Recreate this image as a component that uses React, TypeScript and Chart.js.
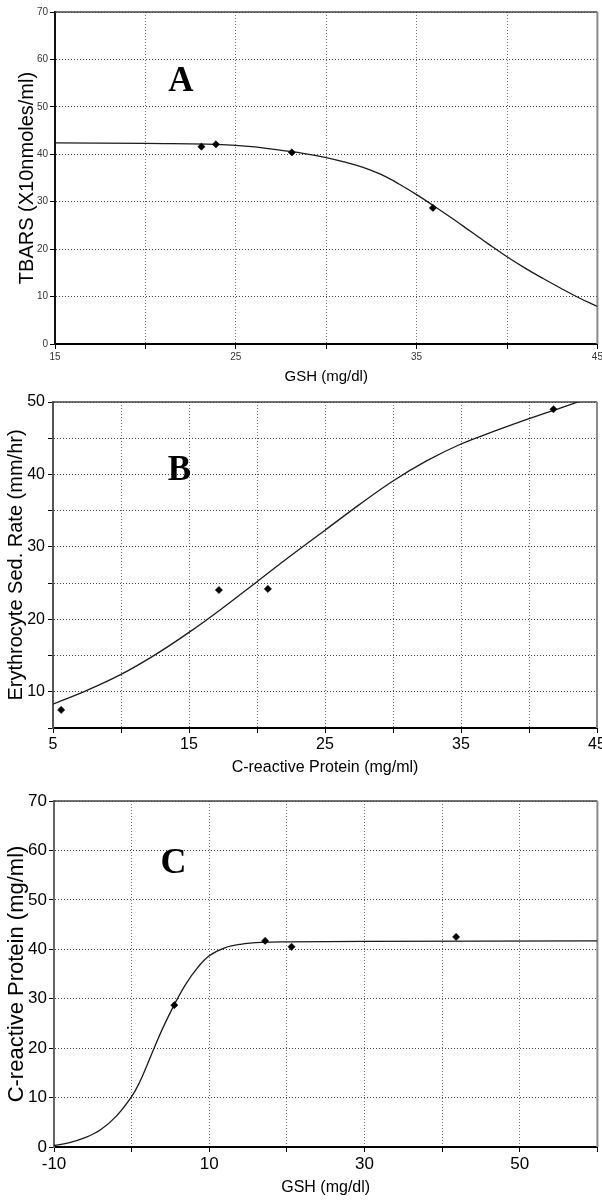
import React, { useEffect, useRef } from "react";
import { Chart, registerables } from "chart.js";
Chart.register(...registerables);

const FONT = "'Liberation Sans', Arial, sans-serif";

// ---------- Panel A ----------
const aPointX = [23.1, 23.9, 28.1, 35.9];
const aPointY = [41.6, 42.1, 40.4, 28.7];
const aCurveX = [15, 20, 25, 28, 30, 31, 32, 33, 34, 35, 36, 37, 38, 39, 40, 41, 42, 43, 44, 45];
const aCurveY = [42.4, 42.3, 41.9, 40.6, 39.3, 38.4, 37.3, 35.8, 33.8, 31.5, 29.0, 26.4, 23.7, 21.0, 18.4, 16.0, 13.8, 11.7, 9.7, 7.9];
const aXLabels = [15, 25, 35, 45];
const aYLabels = [0, 10, 20, 30, 40, 50, 60, 70];

// ---------- Panel B ----------
const bPointX = [5.6, 17.2, 20.8, 41.8];
const bPointY = [7.5, 24.05, 24.2, 49.0];
const bCurveX = [5, 7.5, 10, 12.5, 15, 17.5, 20, 22.5, 25, 27.5, 30, 32.5, 35, 37.5, 40, 42.5, 45];
const bCurveY = [8.3, 10.2, 12.4, 15.1, 18.2, 21.6, 25.2, 28.8, 32.3, 35.8, 39.1, 41.9, 44.2, 46.0, 47.7, 49.3, 50.9];
const bXLabels = [5, 15, 25, 35, 45];
const bYLabels = [10, 20, 30, 40, 50];

// ---------- Panel C ----------
const cPointX = [5.5, 17.2, 20.6, 41.8];
const cPointY = [28.7, 41.7, 40.5, 42.5];
const cCurveX = [-10, -8, -6, -4, -2, 0, 1, 2, 3, 4, 5.5, 7, 8.5, 10, 12, 14, 17, 20, 30, 60];
const cCurveY = [0.3, 0.9, 1.9, 3.5, 6.2, 10.2, 13, 16.6, 20.4, 24.0, 28.8, 33, 36.3, 38.7, 40.3, 41.0, 41.4, 41.5, 41.6, 41.7];
const cXLabels = [-10, 10, 30, 50];
const cYLabels = [0, 10, 20, 30, 40, 50, 60, 70];

type Spec = {
  top: number; height: number;
  padTop: number; padRight: number; yWidth: number; xHeight: number;
  xMin: number; xMax: number; xStep: number; xLabels: number[];
  yMin: number; yMax: number; yStep: number; yLabels: number[];
  tickFont: number; tickColor: string; xTickPad: number; yTickPad: number;
  xTitle: string; xTitleFont: number; xTitlePadBottom: number;
  yTitle: string; yTitleFont: number; yTitlePadTop: number;
  letter: string; letterX: number; letterY: number; letterFont: number;
  px: number[]; py: number[]; cx: number[]; cy: number[];
  leftColor: string;
};

const framePlugin = {
  id: "frame",
  beforeDatasetsDraw(chart: any) {
    const { ctx, chartArea } = chart;
    ctx.save();
    ctx.strokeStyle = "#444";
    ctx.lineWidth = 1.5;
    ctx.beginPath();
    ctx.moveTo(chartArea.left, chartArea.top);
    ctx.lineTo(chartArea.right, chartArea.top);
    ctx.stroke();
    ctx.strokeStyle = "#8a8a8a";
    ctx.lineWidth = 2;
    ctx.beginPath();
    ctx.moveTo(chartArea.right, chartArea.top);
    ctx.lineTo(chartArea.right, chartArea.bottom);
    ctx.stroke();
    ctx.restore();
  },
};

const letterPlugin = {
  id: "letter",
  afterDatasetsDraw(chart: any, _args: any, opts: any) {
    const { ctx } = chart;
    const x = chart.scales.x.getPixelForValue(opts.x);
    const y = chart.scales.y.getPixelForValue(opts.y);
    ctx.save();
    ctx.fillStyle = "#000";
    ctx.font = `bold ${opts.size}px 'Liberation Serif', 'Times New Roman', serif`;
    ctx.textAlign = "center";
    ctx.textBaseline = "alphabetic";
    ctx.fillText(opts.text, x, y);
    ctx.restore();
  },
};

function Panel({ s }: { s: Spec }) {
  const ref = useRef<HTMLCanvasElement>(null);
  useEffect(() => {
    const canvas = ref.current!;
    const points = s.px.map((x, i) => ({ x, y: s.py[i] }));
    const curve = s.cx.map((x, i) => ({ x, y: s.cy[i] }));
    const chart = new Chart(canvas, {
      type: "scatter",
      data: {
        datasets: [
          {
            type: "scatter",
            data: points,
            pointStyle: "rectRot",
            pointRadius: 3.6,
            pointBackgroundColor: "#000",
            pointBorderColor: "#000",
            pointBorderWidth: 0.6,
          } as any,
          {
            type: "line",
            data: curve,
            borderColor: "#1a1a1a",
            borderWidth: 1.3,
            pointRadius: 0,
            tension: 0.4,
            fill: false,
          } as any,
        ],
      },
      options: {
        responsive: false,
        animation: false,
        devicePixelRatio: 1,
        layout: { padding: { top: s.padTop, right: s.padRight, bottom: 0, left: 0 } },
        plugins: {
          legend: { display: false },
          tooltip: { enabled: false },
          letter: { text: s.letter, x: s.letterX, y: s.letterY, size: s.letterFont },
        } as any,
        scales: {
          x: {
            type: "linear",
            min: s.xMin,
            max: s.xMax,
            afterFit: (sc: any) => {
              sc.height = s.xHeight;
              sc.paddingLeft = 0;
              sc.paddingRight = 0;
            },
            ticks: {
              stepSize: s.xStep,
              autoSkip: false,
              maxRotation: 0,
              padding: s.xTickPad,
              color: s.tickColor,
              font: { family: FONT, size: s.tickFont },
              callback: (v: any) => (s.xLabels.includes(Number(v)) ? String(v) : ""),
            },
            grid: {
              color: "rgba(0,0,0,0.55)",
              tickColor: "#000",
              tickLength: 5,
              tickBorderDash: [],
            } as any,
            border: { color: "#000", width: 2, dash: [1, 2] } as any,
            title: {
              display: true,
              text: s.xTitle,
              color: "#000",
              font: { family: FONT, size: s.xTitleFont },
              padding: { top: 0, bottom: s.xTitlePadBottom },
            },
          },
          y: {
            type: "linear",
            min: s.yMin,
            max: s.yMax,
            afterFit: (sc: any) => {
              sc.width = s.yWidth;
              sc.paddingTop = 0;
              sc.paddingBottom = 0;
            },
            ticks: {
              stepSize: s.yStep,
              autoSkip: false,
              padding: s.yTickPad,
              color: s.tickColor,
              font: { family: FONT, size: s.tickFont },
              callback: (v: any) => (s.yLabels.includes(Number(v)) ? String(v) : ""),
            },
            grid: {
              color: "rgba(0,0,0,0.75)",
              tickColor: "#000",
              tickLength: 5,
              tickBorderDash: [],
            } as any,
            border: { color: s.leftColor, width: 2, dash: [1, 2] } as any,
            title: {
              display: true,
              text: s.yTitle,
              color: "#000",
              font: { family: FONT, size: s.yTitleFont },
              padding: { top: s.yTitlePadTop, bottom: 0 },
            },
          },
        },
      },
      plugins: [framePlugin, letterPlugin],
    });
    return () => chart.destroy();
  }, [s]);
  return (
    <canvas
      ref={ref}
      width={602}
      height={s.height}
      style={{ position: "absolute", left: 0, top: s.top, width: 602, height: s.height }}
    />
  );
}

const specA: Spec = {
  top: 0, height: 390, padTop: 12, padRight: 4, yWidth: 55, xHeight: 46,
  xMin: 15, xMax: 45, xStep: 5, xLabels: aXLabels,
  yMin: 0, yMax: 70, yStep: 10, yLabels: aYLabels,
  tickFont: 10, tickColor: "#333", xTickPad: 2, yTickPad: 2,
  xTitle: "GSH (mg/dl)", xTitleFont: 15, xTitlePadBottom: 4,
  yTitle: "TBARS (X10nmoles/ml)", yTitleFont: 20, yTitlePadTop: 15,
  letter: "A", letterX: 21.96, letterY: 53.4, letterFont: 35,
  px: aPointX, py: aPointY, cx: aCurveX, cy: aCurveY,
  leftColor: "#111",
};

const specB: Spec = {
  top: 390, height: 390, padTop: 12, padRight: 5, yWidth: 53, xHeight: 52,
  xMin: 5, xMax: 45, xStep: 5, xLabels: bXLabels,
  yMin: 5, yMax: 50, yStep: 5, yLabels: bYLabels,
  tickFont: 16, tickColor: "#000", xTickPad: 2, yTickPad: 3,
  xTitle: "C-reactive Protein (mg/ml)", xTitleFont: 16, xTitlePadBottom: 3,
  yTitle: "Erythrocyte Sed. Rate (mm/hr)", yTitleFont: 20, yTitlePadTop: 4,
  letter: "B", letterX: 14.3, letterY: 39.2, letterFont: 35,
  px: bPointX, py: bPointY, cx: bCurveX, cy: bCurveY,
  leftColor: "#555",
};

const specC: Spec = {
  top: 780, height: 420, padTop: 21, padRight: 2, yWidth: 54, xHeight: 53,
  xMin: -10, xMax: 60, xStep: 10, xLabels: cXLabels,
  yMin: 0, yMax: 70, yStep: 10, yLabels: cYLabels,
  tickFont: 17, tickColor: "#000", xTickPad: 2, yTickPad: 2,
  xTitle: "GSH (mg/dl)", xTitleFont: 16, xTitlePadBottom: 3,
  yTitle: "C-reactive Protein (mg/ml)", yTitleFont: 22, yTitlePadTop: 4,
  letter: "C", letterX: 5.4, letterY: 55.4, letterFont: 36,
  px: cPointX, py: cPointY, cx: cCurveX, cy: cCurveY,
  leftColor: "#666",
};

export default function App() {
  return (
    <div style={{ position: "absolute", left: 0, top: 0, width: 602, height: 1200, background: "#fff" }}>
      <Panel s={specA} />
      <Panel s={specB} />
      <Panel s={specC} />
    </div>
  );
}
